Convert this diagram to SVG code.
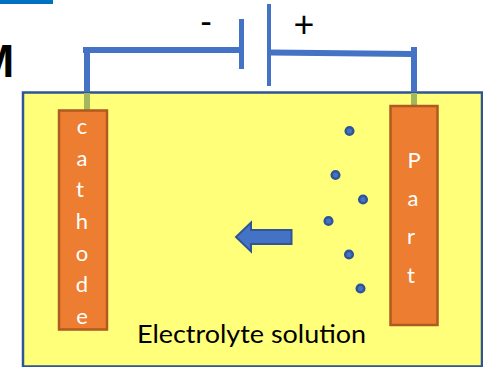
<svg xmlns="http://www.w3.org/2000/svg" width="483" height="367" viewBox="0 0 483 367">
<style>
.wire{fill:none;stroke:#4472c4;stroke-width:6}
.plate{fill:#4472c4}
.el{fill:#ed7d31;stroke:#ae5a21;stroke-width:2.5}
.w{font-family:Lato,"Open Sans",sans-serif;font-size:22px;fill:#fff;text-anchor:middle}
.ion{fill:#4472c4;stroke:#2f5597;stroke-width:2.5}
.k{font-family:Lato,"Open Sans",sans-serif;fill:#000}
</style>
<rect x="0" y="0" width="53" height="4" fill="#0070c0"/>
<text x="-24" y="77" font-family="'Liberation Sans',sans-serif" font-weight="700" font-size="46" fill="#000">M</text>
<g id="solution"><rect x="23" y="92.500" width="459" height="274" fill="#ffff7a" stroke="#2f5597" stroke-width="2.500"/></g>
<g id="connectors">
<path class="wire" d="M83 50H240"/>
<path class="wire" d="M87 47V92"/>
<path d="M87 93V110" fill="none" stroke="#a2b85f" stroke-width="6"/>
<path class="wire" d="M271 52.500L412 54"/>
<path class="wire" d="M414 47V92"/>
<path d="M414 93V105" fill="none" stroke="#a2b85f" stroke-width="6"/>
</g>
<g id="battery">
<rect class="plate" x="239" y="19" width="5" height="50"/>
<rect class="plate" x="267" y="4" width="4" height="82"/>
<text class="k" x="206" y="34" font-size="34" text-anchor="middle">-</text>
<text class="k" x="304" y="37" font-size="36" text-anchor="middle">+</text>
</g>
<g id="cathode"><rect class="el" x="59" y="110.500" width="48" height="219"/>
<text class="w" x="82" y="134">c</text><text class="w" x="82" y="166">a</text><text class="w" x="80" y="197">t</text><text class="w" x="82" y="229">h</text><text class="w" x="82" y="261">o</text><text class="w" x="82" y="292">d</text><text class="w" x="82" y="324">e</text></g>
<g id="part"><rect class="el" x="390.500" y="106" width="47" height="219"/>
<text class="w" x="414" y="168">P</text><text class="w" x="413" y="206">a</text><text class="w" x="411" y="244">r</text><text class="w" x="411" y="283">t</text></g>
<g id="ions">
<circle class="ion" cx="349.500" cy="131" r="3.800"/><circle class="ion" cx="335.500" cy="175" r="3.800"/><circle class="ion" cx="363" cy="199.500" r="3.800"/><circle class="ion" cx="328.500" cy="221" r="3.800"/><circle class="ion" cx="349" cy="254.500" r="3.800"/><circle class="ion" cx="360.500" cy="288.500" r="3.800"/>
</g>
<g id="arrow"><path d="M291.500 230H251V222.500L236 237L251 251.500V244H291.500Z" fill="#4472c4" stroke="#2f5597" stroke-width="2"/></g>
<g id="label"><text class="k" x="137" y="343" font-size="24.500" textLength="229" lengthAdjust="spacingAndGlyphs">Electrolyte solution</text></g>
</svg>
